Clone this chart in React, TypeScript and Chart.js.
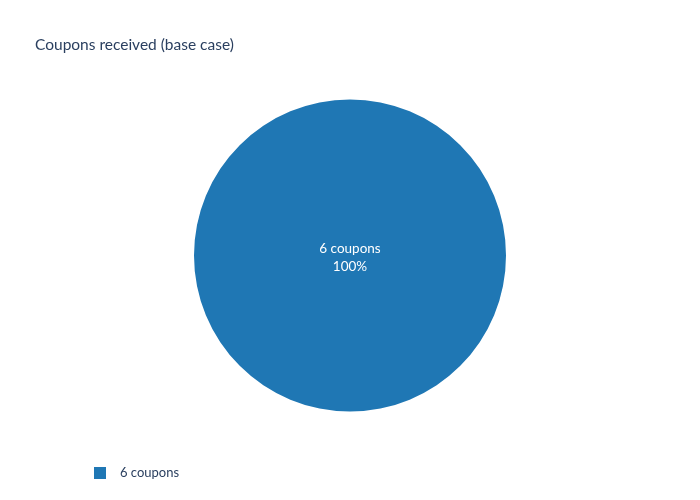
import React, { useEffect, useRef } from "react";
import { Chart, registerables } from "chart.js";

Chart.register(...registerables);

const titleText = "Coupons received (base case)";
const categories = ["6 coupons"];
const values = [100];
const colors = ["#1f77b4"];

const FONT = "Lato, 'Open Sans', 'DejaVu Sans', sans-serif";
const TEXT_COLOR = "#2a3f5f";

const overlayPlugin = {
  id: "overlay",
  afterDraw(chart: any) {
    const ctx = chart.ctx;
    ctx.save();
    // title
    ctx.fillStyle = TEXT_COLOR;
    ctx.font = `15.5px ${FONT}`;
    ctx.textAlign = "left";
    ctx.textBaseline = "middle";
    ctx.fillText(titleText, 35, 45);

    // slice labels
    const meta = chart.getDatasetMeta(0);
    const data = chart.data.datasets[0].data as number[];
    const total = data.reduce((a, b) => a + b, 0);
    meta.data.forEach((arc: any, i: number) => {
      const pct = (data[i] / total) * 100;
      let x: number, y: number;
      if (pct >= 99.999) {
        x = arc.x;
        y = arc.y;
      } else {
        const p = arc.tooltipPosition();
        x = p.x;
        y = p.y;
      }
      ctx.fillStyle = "#ffffff";
      ctx.font = `13.5px ${FONT}`;
      ctx.textAlign = "center";
      ctx.textBaseline = "middle";
      ctx.fillText(String(chart.data.labels[i]), x, y - 7);
      ctx.fillText(`${Math.round(pct)}%`, x, y + 11);
    });

    // legend
    categories.forEach((c, i) => {
      const ly = 473 + i * 19;
      ctx.fillStyle = colors[i];
      ctx.fillRect(94, ly - 6, 12, 12);
      ctx.fillStyle = TEXT_COLOR;
      ctx.font = `13px ${FONT}`;
      ctx.textAlign = "left";
      ctx.textBaseline = "middle";
      ctx.fillText(c, 120, ly);
    });
    ctx.restore();
  },
};

export default function App() {
  const ref = useRef<HTMLCanvasElement | null>(null);
  useEffect(() => {
    if (!ref.current) return;
    const chart = new Chart(ref.current, {
      type: "pie",
      data: {
        labels: categories,
        datasets: [
          {
            data: values,
            backgroundColor: colors,
            borderWidth: 0,
          },
        ],
      },
      options: {
        responsive: false,
        animation: false,
        layout: { padding: { top: 99, bottom: 88, left: 194, right: 194 } },
        plugins: {
          legend: { display: false },
          title: { display: false },
          tooltip: { enabled: false },
        },
      },
      plugins: [overlayPlugin],
    });
    return () => chart.destroy();
  }, []);
  return (
    <div style={{ position: "fixed", left: 0, top: 0, width: 700, height: 500, background: "#fff" }}>
      <canvas ref={ref} width={700} height={500} style={{ width: 700, height: 500 }} />
    </div>
  );
}
